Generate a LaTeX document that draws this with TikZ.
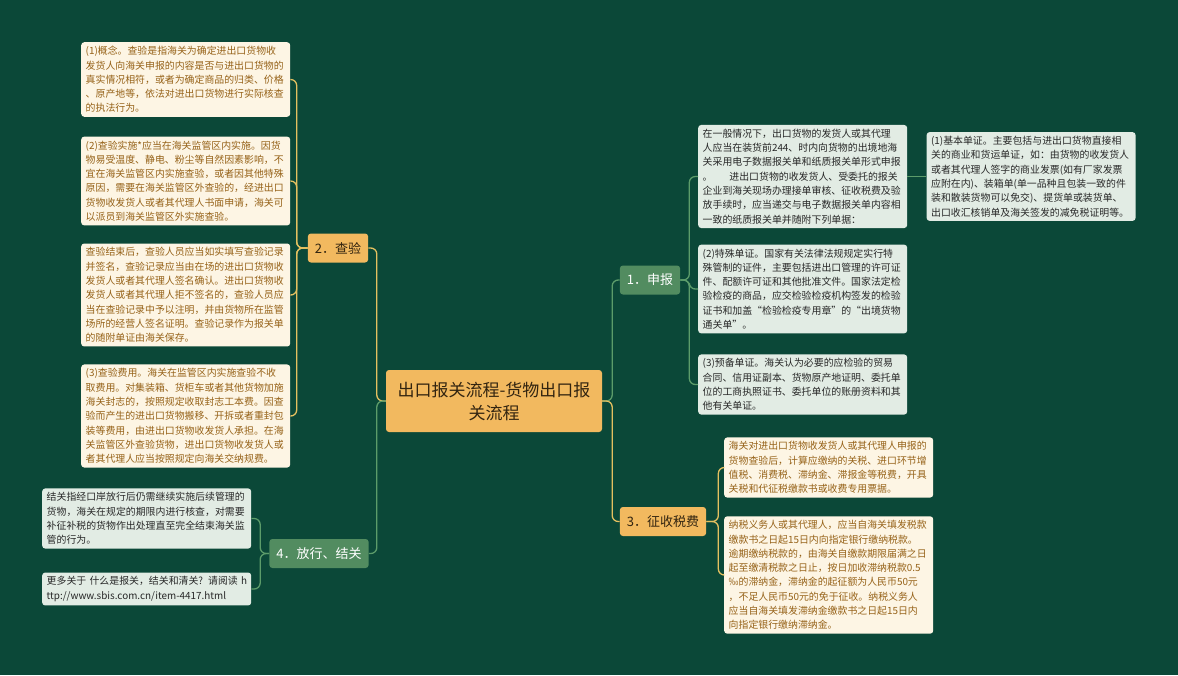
\documentclass[tikz,border=0pt]{standalone}
\usepackage{fontspec}
\setmainfont{Noto Sans CJK SC}
\usepackage{tikz}
\usetikzlibrary{positioning}

\definecolor{bgGreen}{RGB}{11,72,56}
\definecolor{nodeOrange}{RGB}{242,185,95}
\definecolor{nodeGreen}{RGB}{82,140,96}
\definecolor{rootText}{RGB}{50,36,16}
\definecolor{leafCream}{RGB}{253,245,228}
\definecolor{leafGrey}{RGB}{226,236,228}
\definecolor{leafBrown}{RGB}{150,98,24}
\definecolor{leafDark}{RGB}{40,40,40}
\definecolor{lineYellow}{RGB}{228,192,96}
\definecolor{lineGreen}{RGB}{92,156,106}

\begin{document}
\begin{tikzpicture}[x=1pt, y=-1pt,
  root/.style={rectangle, rounded corners=3pt, fill=nodeOrange, text=rootText,
    font=\fontsize{17}{23}\selectfont, align=center,
    minimum width=216pt, minimum height=62pt, inner sep=0pt},
  topic_y/.style={rectangle, rounded corners=3pt, fill=nodeOrange, text=rootText,
    font=\fontsize{13}{15}\selectfont, minimum height=29pt, inner xsep=7pt},
  topic_g/.style={topic_y, fill=nodeGreen, text=white},
  leaf_y/.style={rectangle, rounded corners=3pt, fill=leafCream, text=leafBrown,
    font=\fontsize{9.9}{14.3}\selectfont, text width=200pt, align=left,
    inner xsep=4.5pt, inner ysep=4pt, anchor=west},
  leaf_g/.style={leaf_y, fill=leafGrey, text=leafDark},
  link_y/.style={draw=lineYellow, line width=1.3pt, rounded corners=6pt},
  link_g/.style={draw=lineGreen, line width=1.3pt, rounded corners=6pt}
]
\fill[bgGreen] (0,0) rectangle (1178,675);
\useasboundingbox (0,0) rectangle (1178,675);

%% root and main topics
\node[root] (root) at (494,401) {出口报关流程-货物出口报\\关流程};

\node[topic_y] (check) at (338,248) {2．查验};
\node[topic_g] (release) at (319,553.5) {4．放行、结关};
\node[topic_g] (declare) at (650,280) {1．申报};
\node[topic_y] (tax) at (663,521.5) {3．征收税费};

\draw[link_y] (root.west) -- ++(-9,0) |- (check.east);
\draw[link_g] (root.west) -- ++(-9,0) |- (release.east);
\draw[link_g] (root.east) -- ++(10,0) |- (declare.west);
\draw[link_y] (root.east) -- ++(10,0) |- (tax.west);

%% CHECK
\node[leaf_y] (check_concept) at (81,79.5) {(1)概念。查验是指海关为确定进出口货物收\\发货人向海关申报的内容是否与进出口货物的\\真实情况相符，或者为确定商品的归类、价格\\、原产地等，依法对进出口货物进行实际核查\\的执法行为。};
\node[leaf_y] (check_do) at (81,181) {(2)查验实施*应当在海关监管区内实施。因货\\物易受温度、静电、粉尘等自然因素影响，不\\宜在海关监管区内实施查验，或者因其他特殊\\原因，需要在海关监管区外查验的，经进出口\\货物收发货人或者其代理人书面申请，海关可\\以派员到海关监管区外实施查验。};
\node[leaf_y] (check_record) at (81,295) {查验结束后，查验人员应当如实填写查验记录\\并签名，查验记录应当由在场的进出口货物收\\发货人或者其代理人签名确认。进出口货物收\\发货人或者其代理人拒不签名的，查验人员应\\当在查验记录中予以注明，并由货物所在监管\\场所的经营人签名证明。查验记录作为报关单\\的随附单证由海关保存。};
\node[leaf_y] (check_fee) at (81,416) {(3)查验费用。海关在监管区内实施查验不收\\取费用。对集装箱、货柜车或者其他货物加施\\海关封志的，按照规定收取封志工本费。因查\\验而产生的进出口货物搬移、开拆或者重封包\\装等费用，由进出口货物收发货人承担。在海\\关监管区外查验货物，进出口货物收发货人或\\者其代理人应当按照规定向海关交纳规费。};

\draw[link_y] (check.west) -- ++(-11,0) |- (check_concept.east);
\draw[link_y] (check.west) -- ++(-11,0) |- (check_do.east);
\draw[link_y] (check.west) -- ++(-11,0) |- (check_record.east);
\draw[link_y] (check.west) -- ++(-11,0) |- (check_fee.east);

%% RELEASE
\node[leaf_g] (release_close) at (42,518.5) {结关指经口岸放行后仍需继续实施后续管理的\\货物，海关在规定的期限内进行核查，对需要\\补征补税的货物作出处理直至完全结束海关监\\管的行为。};
\node[leaf_g] (release_more) at (42,589) {\mbox{更多关于 什么是报关，结关和清关? 请阅读 h}\\ttp://www.sbis.com.cn/item-4417.html};

\draw[link_g] (release.west) -- ++(-9,0) |- (release_close.east);
\draw[link_g] (release.west) -- ++(-9,0) |- (release_more.east);

%% DECLARE
\node[leaf_g] (declare_main) at (698,176.5) {在一般情况下，出口货物的发货人或其代理\\人应当在装货前244、时内向货物的出境地海\\关采用电子数据报关单和纸质报关单形式申报\\。\hspace{1.7em}进出口货物的收发货人、受委托的报关\\企业到海关现场办理接单审核、征收税费及验\\放手续时，应当递交与电子数据报关单内容相\\一致的纸质报关单并随附下列单据：};
\node[leaf_g, right=19pt of declare_main] (declare_basic) {(1)基本单证。主要包括与进出口货物直接相\\关的商业和货运单证，如：由货物的收发货人\\或者其代理人签字的商业发票(如有厂家发票\\应附在内)、装箱单(单一品种且包装一致的件\\装和散装货物可以免交)、提货单或装货单、\\出口收汇核销单及海关签发的减免税证明等。};
\node[leaf_g] (declare_special) at (698,289) {(2)特殊单证。国家有关法律法规规定实行特\\殊管制的证件，主要包括进出口管理的许可证\\件、配额许可证和其他批准文件。国家法定检\\验检疫的商品，应交检验检疫机构签发的检验\\证书和加盖“检验检疫专用章”的“出境货物\\通关单”。};
\node[leaf_g] (declare_prep) at (698,384.5) {(3)预备单证。海关认为必要的应检验的贸易\\合同、信用证副本、货物原产地证明、委托单\\位的工商执照证书、委托单位的账册资料和其\\他有关单证。};

\draw[link_g] (declare.east) -- ++(9,0) |- (declare_main.west);
\draw[link_g] (declare.east) -- ++(9,0) |- (declare_special.west);
\draw[link_g] (declare.east) -- ++(9,0) |- (declare_prep.west);
\draw[link_g] (declare_main.east) -- (declare_basic.west);

%% TAX
\node[leaf_y] (tax_levy) at (724,467.5) {海关对进出口货物收发货人或其代理人申报的\\货物查验后，计算应缴纳的关税、进口环节增\\值税、消费税、滞纳金、滞报金等税费，开具\\关税和代征税缴款书或收费专用票据。};
\node[leaf_y] (tax_late) at (724,575) {纳税义务人或其代理人，应当自海关填发税款\\缴款书之日起15日内向指定银行缴纳税款。\\逾期缴纳税款的，由海关自缴款期限届满之日\\起至缴清税款之日止，按日加收滞纳税款0.5\\‰的滞纳金，滞纳金的起征额为人民币50元\\，不足人民币50元的免于征收。纳税义务人\\应当自海关填发滞纳金缴款书之日起15日内\\向指定银行缴纳滞纳金。};

\draw[link_y] (tax.east) -- ++(12,0) |- (tax_levy.west);
\draw[link_y] (tax.east) -- ++(12,0) |- (tax_late.west);

\end{tikzpicture}
\end{document}
